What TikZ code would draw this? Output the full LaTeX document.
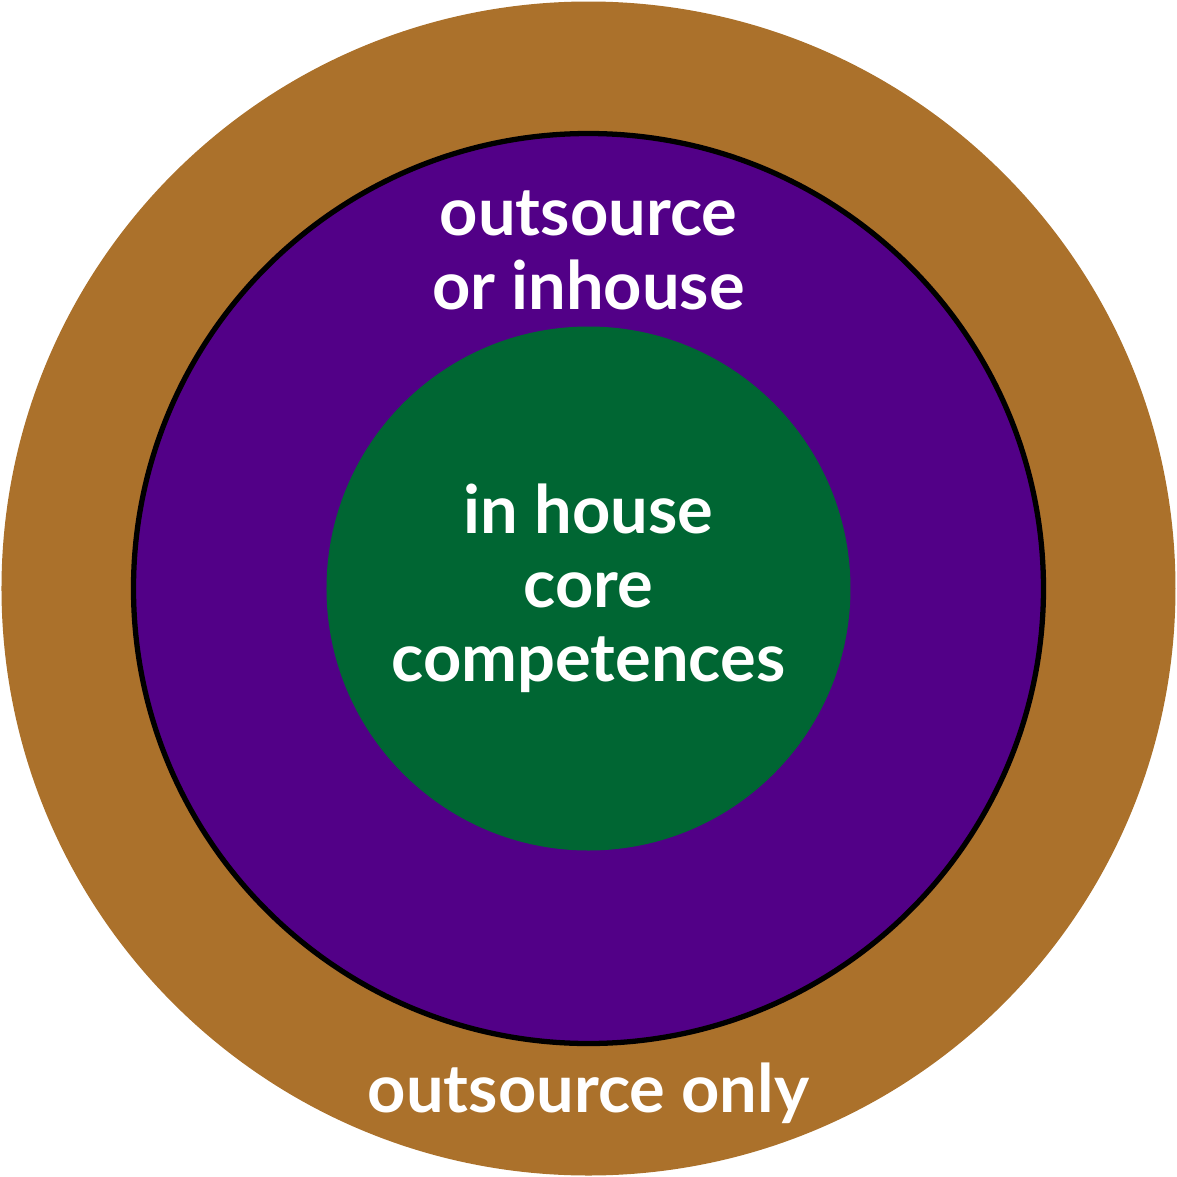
\documentclass[tikz,border=0pt]{standalone}
\usepackage{fontspec}
\setmainfont{Lato}
\definecolor{ringbrown}{HTML}{AB712B}
\definecolor{ringpurple}{HTML}{520087}
\definecolor{ringgreen}{HTML}{006633}
\begin{document}
\begin{tikzpicture}[ring label/.style={text=white, font=\fontsize{19}{21}\selectfont\bfseries, align=center}]
  \useasboundingbox (-5.885,-5.885) rectangle (5.885,5.885);
  \node[circle, fill=ringbrown, minimum size=11.74cm, inner sep=0pt] (outer) at (0,0) {};
  \node[circle, fill=ringpurple, draw=black, line width=1.5pt, minimum size=9.1cm, inner sep=0pt] (middle) at (0,0) {};
  \node[circle, fill=ringgreen, minimum size=5.24cm, inner sep=0pt] (inner) at (0,0) {};
  \node[ring label] (core) at (inner.center) {in house\\core\\competences};
  \node[ring label] (either) at (0,3.38) {outsource\\or inhouse};
  \node[ring label] (only) at (0,-5.05) {outsource only};
\end{tikzpicture}
\end{document}
